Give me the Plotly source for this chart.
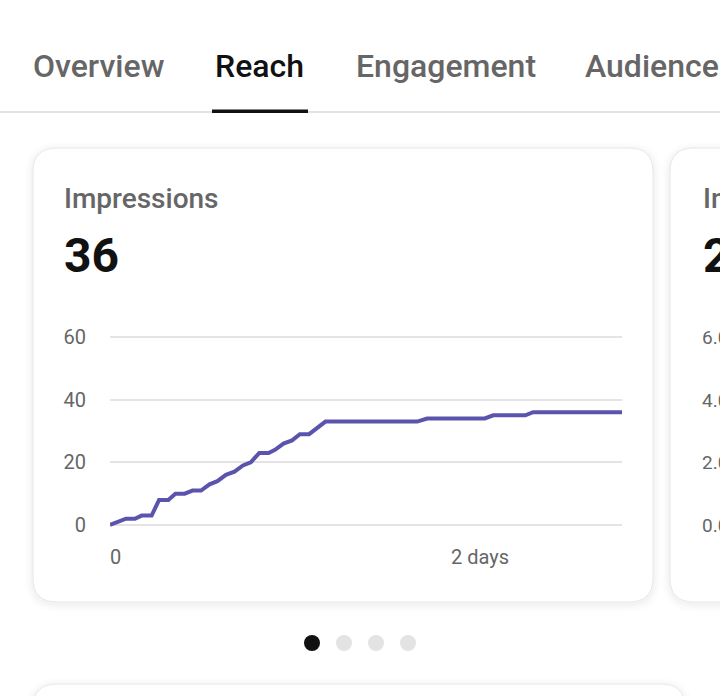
import plotly.graph_objects as go

W, H = 720, 696

# Chart data (x in hours, y impressions)
hours = [0, 2.25, 3.5, 4.45, 5.85, 6.9, 8.2, 9.2, 10.5, 11.6, 12.8, 14, 15.1, 16.3, 17.5, 18.7,
         19.8, 21, 22.3, 23.2, 24.4, 25.6, 26.7, 28, 30.3, 43.2, 44.6, 52.7, 53.9, 58.4, 59.5, 72]
impressions = [0, 2, 2, 3, 3, 8, 8, 10, 10, 11, 11, 13, 14, 16, 17, 19,
               20, 23, 23, 24, 26, 27, 29, 29, 33, 33, 34, 34, 35, 35, 36, 36]
y_ticks = [0, 20, 40, 60]
x_tick_vals = [0, 48]
x_tick_text = ["0", "2 days"]

tabs = ["Overview", "Reach", "Engagement", "Audience"]
tab_left = [33, 215, 356, 585]
card_title = "Impressions"
card_value = "36"
next_title = "Interactions"
next_value = "2"
next_ticks = ["6.0", "4.0", "2.0", "0.0"]
pager_x = [312, 344, 376, 408]

FONT = "Roboto, sans-serif"
GREY = "#666666"
INK = "#111111"
LINE = "#5b54ad"
GRID = "#e4e4e4"


def px(x):
    return x / W


def py(y):
    return 1 - y / H


def rounded(x0, y0, x1, y1, r):
    X0, X1, Y0, Y1 = px(x0), px(x1), py(y0), py(y1)
    Xa, Xb, Ya, Yb = px(x0 + r), px(x1 - r), py(y0 + r), py(y1 - r)
    return (f"M{Xa},{Y0} L{Xb},{Y0} Q{X1},{Y0} {X1},{Ya} L{X1},{Yb} Q{X1},{Y1} {Xb},{Y1} "
            f"L{Xa},{Y1} Q{X0},{Y1} {X0},{Yb} L{X0},{Ya} Q{X0},{Y0} {Xa},{Y0} Z")


shapes = []


def card(x0, y0, x1, y1, r=24):
    for grow, alpha in ((8, 0.006), (6, 0.008), (4, 0.010), (2, 0.014)):
        shapes.append(dict(type="path", xref="paper", yref="paper", layer="below",
                           path=rounded(x0 - grow, y0 - grow + 2, x1 + grow, y1 + grow + 2, r + grow),
                           fillcolor=f"rgba(0,0,0,{alpha})", line_width=0))
    shapes.append(dict(type="path", xref="paper", yref="paper", layer="below",
                       path=rounded(x0, y0, x1, y1, r), fillcolor="white",
                       line=dict(color="#e8e8e8", width=1)))


card(33, 148, 653, 602)
card(670, 148, 760, 602)
card(33, 684, 685, 800)

# tab rule + active underline
shapes.append(dict(type="rect", xref="paper", yref="paper", layer="below", x0=0, x1=1,
                   y0=py(113), y1=py(111), fillcolor="#e2e2e2", line_width=0))
shapes.append(dict(type="rect", xref="paper", yref="paper", x0=px(212), x1=px(308),
                   y0=py(113), y1=py(109.5), fillcolor=INK, line_width=0))

# pager dots
for i, cx in enumerate(pager_x):
    shapes.append(dict(type="circle", xref="paper", yref="paper",
                       x0=px(cx - 8), x1=px(cx + 8), y0=py(651), y1=py(635),
                       fillcolor=INK if i == 0 else "#e3e3e3", line_width=0))

annotations = []


def label(x, y, text, size, color, weight=400):
    annotations.append(dict(xref="paper", yref="paper", x=px(x), y=py(y), text=text,
                            showarrow=False, xanchor="left", yanchor="middle", align="left",
                            borderpad=0, borderwidth=0,
                            font=dict(family=FONT, size=size, color=color, weight=weight)))


for i, (t, x) in enumerate(zip(tabs, tab_left)):
    label(x, 66, t, 32, INK if i == 1 else GREY, 500)
label(64, 198, card_title, 28, GREY, 500)
label(64, 255, card_value, 48, INK, 700)
label(703, 198, next_title, 28, GREY, 500)
label(703, 255, next_value, 48, INK, 700)
for t, y in zip(next_ticks, [337, 400, 462, 525]):
    label(702, y, t, 19, GREY)
for v, t in zip(x_tick_vals, x_tick_text):
    annotations.append(dict(xref="x", yref="paper", x=v, y=py(557), text=t, showarrow=False,
                            xanchor="left", yanchor="middle", borderpad=0, xshift=-1,
                            font=dict(family=FONT, size=20, color=GREY)))

fig = go.Figure(go.Scatter(x=hours, y=impressions, mode="lines", cliponaxis=False,
                           line=dict(color=LINE, width=4, shape="linear"),
                           hoverinfo="skip", showlegend=False))

# 2 px of padding on the y axis so Plotly keeps the gridlines at 0 and 60
unit = 188 / 60
pad = 2 / unit

fig.update_layout(
    width=W, height=H, autosize=False,
    margin=dict(l=0, r=0, t=0, b=0, pad=0, autoexpand=False),
    paper_bgcolor="white", plot_bgcolor="rgba(0,0,0,0)",
    font=dict(family=FONT, color=GREY),
    shapes=shapes, annotations=annotations, showlegend=False,
    xaxis=dict(domain=[px(110), px(622)], range=[0, 72], showgrid=False, zeroline=False,
               showline=False, tickvals=x_tick_vals, ticktext=["", ""], ticks="", automargin=False),
    yaxis=dict(domain=[py(527), py(335)], range=[-pad, 60 + pad], tickvals=y_ticks,
               showgrid=True, gridcolor=GRID, gridwidth=2, zeroline=False, showline=False,
               ticks="outside", ticklen=19, tickcolor="rgba(0,0,0,0)", automargin=False,
               tickfont=dict(family=FONT, size=20, color=GREY)),
)

fig.write_html("out.html", config={"displayModeBar": False},
               post_script="document.body.style.margin='0';document.body.style.overflow='hidden';")
